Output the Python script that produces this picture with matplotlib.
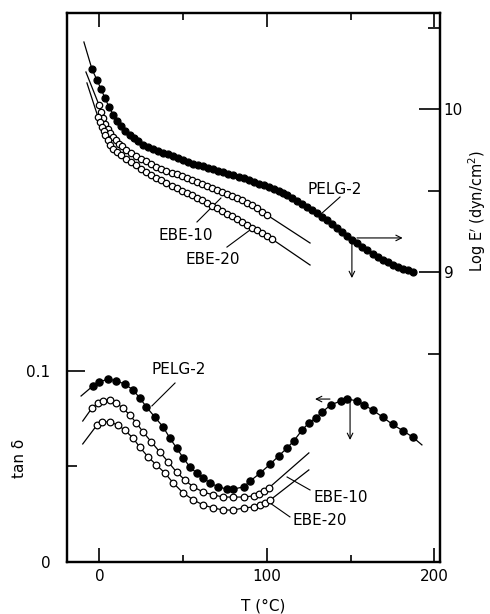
import matplotlib
matplotlib.use("Agg")
import matplotlib.pyplot as plt

# ---- upper set: log E' (dyn/cm2) vs T (deg C), right axis ----
pelg_T_E = [-4.5, -1.5, 0.9, 3.3, 5.7, 8.2, 10.7, 13, 15.5, 18, 20.5, 23, 26, 29, 32, 35, 38, 41,
            44, 47, 50, 53, 56, 59, 62, 65, 68, 71, 74, 77, 80, 83, 86, 89, 92, 95, 98, 101, 104,
            107, 109.6, 112, 115, 118, 121, 124, 127, 130, 133, 136, 139, 142, 145, 148, 151, 154,
            157, 160, 163, 166, 169, 172, 175, 178, 181, 184, 187]
pelg_E = [10.245, 10.178, 10.123, 10.067, 10.012, 9.965, 9.925, 9.893, 9.866, 9.843, 9.823, 9.803,
          9.782, 9.768, 9.756, 9.745, 9.733, 9.722, 9.710, 9.698, 9.686, 9.673, 9.664, 9.656, 9.648,
          9.641, 9.632, 9.622, 9.613, 9.604, 9.595, 9.585, 9.576, 9.567, 9.555, 9.543, 9.531, 9.519,
          9.507, 9.495, 9.485, 9.472, 9.455, 9.438, 9.420, 9.400, 9.380, 9.361, 9.339, 9.317, 9.294,
          9.271, 9.246, 9.222, 9.198, 9.175, 9.152, 9.132, 9.113, 9.095, 9.076, 9.061, 9.046, 9.032,
          9.021, 9.010, 9.001]
pelg_E_start = (-9.3, 10.411)

ebe10_T_E = [-0.3, 0.9, 2.1, 3.4, 4.8, 6.3, 7.9, 9.6, 11.5, 13.4, 16, 19, 22, 25, 28, 31, 34, 37,
             40, 43, 46, 49, 52, 55, 58, 61, 64, 67, 70, 73, 76, 79, 82, 85, 88, 91, 94, 97, 100]
ebe10_E = [10.025, 9.982, 9.943, 9.910, 9.880, 9.853, 9.830, 9.808, 9.788, 9.771, 9.750, 9.730,
           9.712, 9.695, 9.678, 9.661, 9.647, 9.634, 9.622, 9.610, 9.599, 9.588, 9.577, 9.565,
           9.552, 9.538, 9.526, 9.515, 9.504, 9.493, 9.481, 9.469, 9.456, 9.442, 9.426, 9.409,
           9.391, 9.371, 9.350]
ebe10_E_ends = [(-8.1, 10.227), (125.7, 9.178)]

ebe20_T_E = [-0.9, 0.3, 1.5, 2.4, 3.3, 4.8, 6.3, 8.3, 10.4, 13, 16, 19, 22, 25, 28, 31, 34, 37, 40,
             43, 46, 49, 52, 55, 58, 61, 64, 67, 70, 73, 76, 79, 82, 85, 88, 91, 94, 97, 100, 103]
ebe20_E = [9.951, 9.920, 9.890, 9.865, 9.840, 9.808, 9.779, 9.756, 9.736, 9.716, 9.695, 9.676,
           9.654, 9.633, 9.615, 9.596, 9.578, 9.562, 9.546, 9.530, 9.515, 9.500, 9.486, 9.471,
           9.456, 9.440, 9.424, 9.407, 9.391, 9.374, 9.358, 9.341, 9.325, 9.307, 9.290, 9.273,
           9.257, 9.241, 9.222, 9.202]
ebe20_E_ends = [(-7.5, 10.160), (125.7, 9.043)]

# ---- lower set: tan delta vs T, left axis ----
pelg_T_d = [-4, 0, 5, 10, 15, 20, 24, 28, 33, 38, 42, 46, 50, 54, 58, 62, 66, 71, 76, 80, 86, 90,
            96, 102, 107, 112, 116, 121, 125, 129, 133, 138, 144, 148, 154, 158, 163, 169, 175,
            181, 187]
pelg_d = [0.0921, 0.0942, 0.0958, 0.0948, 0.0932, 0.0901, 0.0859, 0.0812, 0.0759, 0.0707, 0.0649,
          0.0597, 0.0545, 0.0497, 0.0466, 0.0440, 0.0414, 0.0393, 0.0382, 0.0382, 0.0393, 0.0424,
          0.0466, 0.0513, 0.0555, 0.0597, 0.0634, 0.0691, 0.0728, 0.0754, 0.0785, 0.0822, 0.0843,
          0.0853, 0.0843, 0.0822, 0.0796, 0.0759, 0.0720, 0.0688, 0.0654]
pelg_d_ends = [(-11, 0.0869), (192.5, 0.0613)]

ebe10_T_d = [-4.5, -1, 2, 6, 10, 14, 18, 22, 26, 31, 36, 41, 46, 51, 56, 62, 68, 74, 80, 86, 92,
             95, 98, 101]
ebe10_d = [0.0806, 0.0832, 0.0843, 0.0848, 0.0832, 0.0806, 0.0770, 0.0728, 0.0681, 0.0628, 0.0576,
           0.0524, 0.0471, 0.0429, 0.0393, 0.0366, 0.0351, 0.0340, 0.0340, 0.0340, 0.0346, 0.0356,
           0.0372, 0.0387]
ebe10_d_ends = [(-10, 0.0738), (125, 0.0571)]

ebe20_T_d = [-1.5, 1.5, 6, 11, 15, 20, 24, 29, 34, 39, 44, 50, 56, 62, 68, 74, 80, 86, 92, 96, 99, 102]
ebe20_d = [0.0717, 0.0733, 0.0733, 0.0717, 0.0691, 0.0649, 0.0602, 0.0550, 0.0508, 0.0466, 0.0414,
           0.0361, 0.0325, 0.0298, 0.0283, 0.0272, 0.0272, 0.0283, 0.0288, 0.0298, 0.0309, 0.0325]
ebe20_d_ends = [(-10, 0.0618), (125, 0.0482)]


def curve(ax, T, v, ends, filled, ms):
    xs = list(T)
    ys = list(v)
    if ends[0] is not None:
        xs = [ends[0][0]] + xs
        ys = [ends[0][1]] + ys
    if ends[1] is not None:
        xs = xs + [ends[1][0]]
        ys = ys + [ends[1][1]]
    ax.plot(xs, ys, color='k', lw=0.9, zorder=2)
    ax.plot(T, v, ls='none', marker='o', ms=ms, mew=0.9, mec='k',
            mfc='k' if filled else 'white', zorder=3)


fig = plt.figure(figsize=(4.9, 6.14), dpi=100)
ax = fig.add_axes([67 / 490, 52 / 614, 372.5 / 490, 549 / 614])
ax2 = ax.twinx()

ax.set_xlim(-19.4, 203)
ax.set_ylim(0, 0.2874)
ax2.set_ylim(7.221, 10.589)

curve(ax2, pelg_T_E, pelg_E, [pelg_E_start, None], True, 5)
curve(ax2, ebe10_T_E, ebe10_E, ebe10_E_ends, False, 4.6)
curve(ax2, ebe20_T_E, ebe20_E, ebe20_E_ends, False, 4.6)
curve(ax, pelg_T_d, pelg_d, pelg_d_ends, True, 5.2)
curve(ax, ebe10_T_d, ebe10_d, ebe10_d_ends, False, 4.8)
curve(ax, ebe20_T_d, ebe20_d, ebe20_d_ends, False, 4.8)

fs = 11
# upper labels with leader lines
ax2.text(140.6, 9.509, 'PELG-2', fontsize=fs, ha='center', va='center')
ax2.plot([143.6, 131.6], [9.46, 9.35], color='k', lw=0.8)
ax2.text(51.6, 9.227, 'EBE-10', fontsize=fs, ha='center', va='center')
ax2.plot([58.2, 72.5], [9.307, 9.454], color='k', lw=0.8)
ax2.text(67.8, 9.074, 'EBE-20', fontsize=fs, ha='center', va='center')
ax2.plot([76.1, 89.9], [9.153, 9.258], color='k', lw=0.8)
ax2.annotate('', xy=(181, 9.209), xytext=(153.7, 9.209),
             arrowprops=dict(arrowstyle='->', lw=0.8, shrinkA=0, shrinkB=0))
ax2.annotate('', xy=(150.7, 8.963), xytext=(150.7, 9.196),
             arrowprops=dict(arrowstyle='->', lw=0.8, shrinkA=0, shrinkB=0))

# lower labels
ax.text(47, 0.101, 'PELG-2', fontsize=fs, ha='center', va='center')
ax.plot([45.1, 31.3], [0.0937, 0.0817], color='k', lw=0.8)
ax.text(127.5, 0.034, 'EBE-10', fontsize=fs, ha='left', va='center')
ax.plot([112, 125.7], [0.0445, 0.0377], color='k', lw=0.8)
ax.text(115, 0.0215, 'EBE-20', fontsize=fs, ha='left', va='center')
ax.plot([101.8, 113.7], [0.0309, 0.0236], color='k', lw=0.8)
ax.annotate('', xy=(128.7, 0.0853), xytext=(137.6, 0.0853),
            arrowprops=dict(arrowstyle='->', lw=0.8, shrinkA=0, shrinkB=0))
ax.annotate('', xy=(149.6, 0.0639), xytext=(149.6, 0.0848),
            arrowprops=dict(arrowstyle='->', lw=0.8, shrinkA=0, shrinkB=0))

# ticks
ax.set_xticks([0, 100, 200])
ax.set_xticklabels(['0', '100', '200'])
ax.set_xticks([50, 150], minor=True)
ax.tick_params(axis='x', which='both', direction='in', top=True, bottom=True,
               labelsize=11, pad=5, width=1.2)
ax.tick_params(axis='x', which='major', length=10)
ax.tick_params(axis='x', which='minor', length=5)

ax.set_yticks([0, 0.1])
ax.set_yticklabels(['0', '0.1'])
ax.set_yticks([0.05], minor=True)
ax.tick_params(axis='y', which='both', direction='in', left=True, right=False,
               labelsize=11, pad=12, width=1.2)
ax.tick_params(axis='y', which='major', length=13)
ax.tick_params(axis='y', which='minor', length=7)

ax2.set_yticks([9, 10])
ax2.set_yticklabels(['9', '10'])
ax2.set_yticks([8.5, 9.5, 10.5], minor=True)
ax2.tick_params(axis='y', which='both', direction='in', right=True, left=False,
                labelsize=11, pad=3, width=1.2)
ax2.tick_params(axis='y', which='major', length=15)
ax2.tick_params(axis='y', which='minor', length=9)

for a in (ax, ax2):
    for s in a.spines.values():
        s.set_linewidth(1.6)

fig.text(263 / 490, 1 - 606 / 614, 'T (\u00b0C)', fontsize=11, ha='center', va='center')
fig.text(20 / 490, 1 - 458 / 614, 'tan \u03b4', fontsize=11, ha='center', va='center', rotation=90)
fig.text(477 / 490, 1 - 211 / 614, "Log E$'$ (dyn/cm$^2$)", fontsize=10.5, ha='center',
         va='center', rotation=90)

fig.savefig('out.png', dpi=100)
